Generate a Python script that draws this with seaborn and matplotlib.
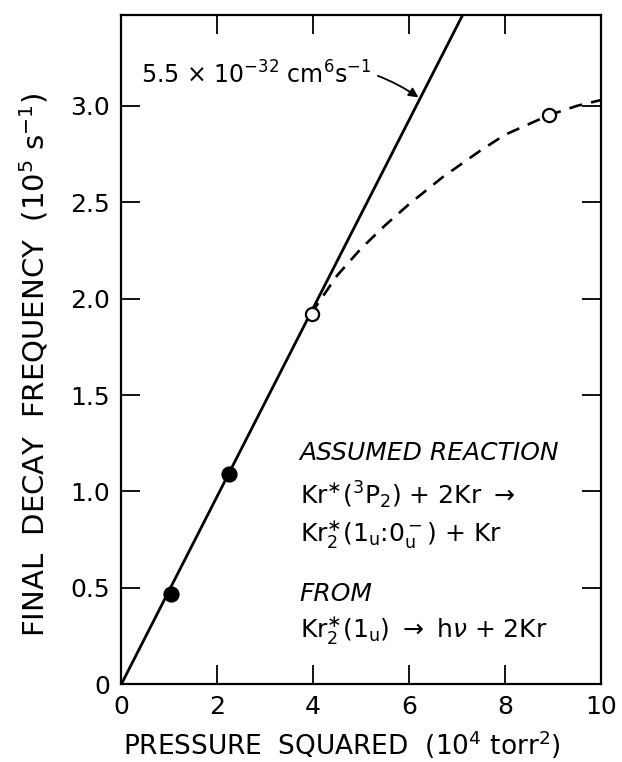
import matplotlib
matplotlib.use("Agg")
import matplotlib.pyplot as plt
import seaborn as sns
import pandas as pd

# Measured final decay frequencies (10^5 s^-1) vs pressure squared (10^4 torr^2)
pressure_sq = [1.04, 2.24, 3.97, 8.92]
decay_freq = [0.47, 1.09, 1.92, 2.95]
point_filled = [True, True, False, False]

# Linear three-body fit through the origin: 5.5e-32 cm^6 s^-1
fit_x = [0.0, 7.3]
fit_y = [0.0, 3.56]

# Saturation trend at high pressure (dashed guide)
trend_x = [3.95, 4.5, 5.0, 5.5, 6.0, 6.7, 7.5, 8.0, 8.9, 9.5, 10.0]
trend_y = [1.92, 2.12, 2.26, 2.38, 2.49, 2.63, 2.77, 2.85, 2.95, 3.00, 3.03]

x_ticks = [0, 2, 4, 6, 8, 10]
x_ticklabels = ["0", "2", "4", "6", "8", "10"]
y_ticks = [0, 0.5, 1.0, 1.5, 2.0, 2.5, 3.0]
y_ticklabels = ["0", "0.5", "1.0", "1.5", "2.0", "2.5", "3.0"]

sns.set_theme(style="ticks")
plt.rcParams["font.family"] = ["DejaVu Sans"]
plt.rcParams["mathtext.fontset"] = "dejavusans"
for key in ("text.color", "axes.labelcolor", "xtick.color", "ytick.color",
            "axes.edgecolor"):
    plt.rcParams[key] = "black"

fig = plt.figure(figsize=(6.22, 7.62), dpi=100)
ax = fig.add_axes([0.195, 0.102, 0.771, 0.878])

fit_df = pd.DataFrame({"x": fit_x, "y": fit_y})
trend_df = pd.DataFrame({"x": trend_x, "y": trend_y})
pts_df = pd.DataFrame({"x": pressure_sq, "y": decay_freq, "filled": point_filled})

sns.lineplot(data=fit_df, x="x", y="y", ax=ax, color="black", lw=2.0,
             estimator=None, sort=False)
trend_line = sns.lineplot(data=trend_df, x="x", y="y", ax=ax, color="black",
                          lw=1.9, estimator=None, sort=False)
trend_line.lines[-1].set_dashes((5, 3.5))

filled = pts_df[pts_df["filled"]]
hollow = pts_df[~pts_df["filled"]]
sns.scatterplot(data=filled, x="x", y="y", ax=ax, s=110, color="black",
                edgecolor="black", linewidth=1.2, zorder=5)
sns.scatterplot(data=hollow, x="x", y="y", ax=ax, s=90, color="white",
                edgecolor="black", linewidth=1.6, zorder=5)

ax.set_xlim(0, 10)
ax.set_ylim(0, 3.47)
ax.set_xticks(x_ticks)
ax.set_xticklabels(x_ticklabels)
ax.set_yticks(y_ticks)
ax.set_yticklabels(y_ticklabels)
ax.tick_params(direction="in", length=14, width=1.3, labelsize=18,
               top=True, right=True, pad=8)
for side in ax.spines.values():
    side.set_linewidth(1.6)

ax.set_xlabel(r"PRESSURE  SQUARED  (10$^4$ torr$^2$)", fontsize=19)
ax.xaxis.set_label_coords(0.46, -0.066)
ax.set_ylabel(r"FINAL  DECAY  FREQUENCY  (10$^5$ s$^{-1}$)", fontsize=21)
ax.yaxis.set_label_coords(-0.148, 0.477)

# Rate-constant label with a curved pointer to the fit line
ax.annotate(r"5.5 $\times$ 10$^{-32}$ cm$^6$s$^{-1}$",
            xy=(6.22, 3.04), xytext=(0.42, 3.16),
            fontsize=17, va="center", ha="left",
            arrowprops=dict(arrowstyle="-|>", color="black", lw=1.3,
                            connectionstyle="arc3,rad=-0.25",
                            shrinkA=2, shrinkB=1, mutation_scale=14))

ax.text(3.72, 1.20, "ASSUMED REACTION", fontsize=18, style="italic",
        va="center", ha="left")
ax.text(3.72, 0.98, r"Kr$^{\ast}$($^3$P$_2$) + 2Kr $\rightarrow$", fontsize=18,
        va="center", ha="left")
ax.text(3.72, 0.78, r"Kr$_2^{\ast}$(1$_\mathrm{u}$:0$_\mathrm{u}^-$) + Kr",
        fontsize=18, va="center", ha="left")
ax.text(3.72, 0.47, "FROM", fontsize=18, style="italic", va="center", ha="left")
ax.text(3.72, 0.28, r"Kr$_2^{\ast}$(1$_\mathrm{u}$) $\rightarrow$ h$\nu$ + 2Kr",
        fontsize=18, va="center", ha="left")

fig.savefig("out.png", dpi=100)
